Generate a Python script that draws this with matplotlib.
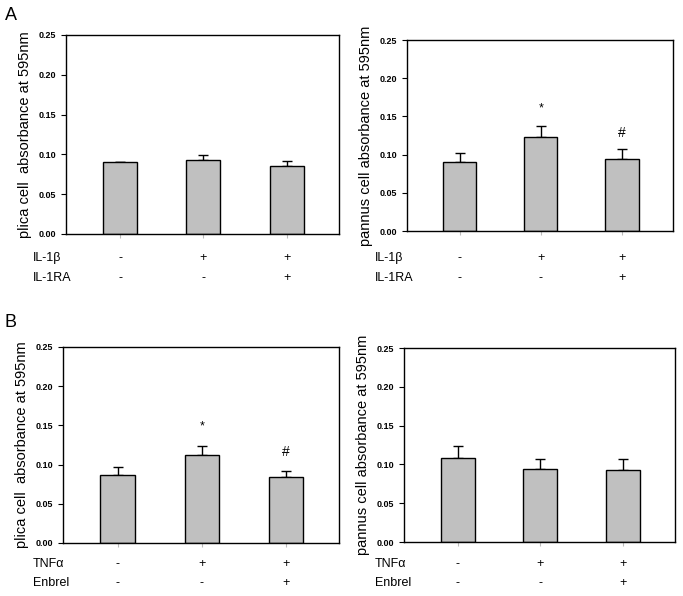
import matplotlib
matplotlib.use("Agg")
import matplotlib.pyplot as plt

plt.rcParams["font.family"] = ["Liberation Sans", "DejaVu Sans"]

W, H = 683, 596
fig = plt.figure(figsize=(W / 100, H / 100), dpi=100)

# ---- data ----
groups = [1, 2, 3]
a_plica = [0.090, 0.093, 0.086]
a_plica_err = [0.001, 0.006, 0.006]
a_pannus = [0.090, 0.123, 0.094]
a_pannus_err = [0.012, 0.015, 0.013]
b_plica = [0.087, 0.112, 0.084]
b_plica_err = [0.010, 0.012, 0.008]
b_pannus = [0.108, 0.094, 0.093]
b_pannus_err = [0.016, 0.013, 0.014]

a_rows = ["IL-1β", "IL-1RA"]
b_rows = ["TNFα", "Enbrel"]
signs_row1 = ["-", "+", "+"]
signs_row2 = ["-", "-", "+"]


def px_axes(x0, y0, x1, y1):
    return fig.add_axes([x0 / W, 1 - y1 / H, (x1 - x0) / W, (y1 - y0) / H])


def panel(ax, vals, errs, ylabel, rows, row_y, label_x, marks=None):
    ax.bar(groups, vals, width=0.41, color="#c0c0c0", edgecolor="black",
           linewidth=1.0, zorder=2)
    ax.errorbar(groups, vals, yerr=[[0] * 3, errs], fmt="none", ecolor="black",
                elinewidth=1.0, capsize=3.5, capthick=1.0, zorder=1)
    ax.set_xlim(0.35, 3.63)
    ax.set_ylim(0, 0.25)
    ax.set_yticks([0, 0.05, 0.10, 0.15, 0.20, 0.25])
    ax.set_yticklabels(["0.00", "0.05", "0.10", "0.15", "0.20", "0.25"],
                       fontsize=6.5, fontweight="bold")
    ax.set_xticks(groups)
    ax.set_xticklabels([])
    ax.tick_params(axis="x", length=3, color="#bbbbbb", width=0.8)
    ax.tick_params(axis="y", length=3.5, width=0.8)
    for s in ax.spines.values():
        s.set_linewidth(1.0)
    ax.set_ylabel(ylabel, fontsize=10.5, labelpad=5)
    if marks:
        for x, y, t, fs in marks:
            ax.text(x, y, t, ha="center", va="center", fontsize=fs)
    # condition rows under the axis
    for name, yy, signs in zip(rows, row_y, [signs_row1, signs_row2]):
        fig.text(label_x / W, 1 - yy / H, name, ha="left", va="center",
                 fontsize=9)
        for g, s in zip(groups, signs):
            xd = ax.transData.transform((g, 0))[0]
            fig.text(xd / fig.bbox.width, 1 - yy / H, s, ha="center",
                     va="center", fontsize=9)


ax1 = px_axes(66, 35, 339, 234)
ax2 = px_axes(407, 40, 673, 231)
ax3 = px_axes(63, 347, 339, 543)
ax4 = px_axes(404, 348, 675, 542)

panel(ax1, a_plica, a_plica_err, "plica cell  absorbance at 595nm",
      a_rows, [258, 278], 33)
panel(ax2, a_pannus, a_pannus_err, "pannus cell absorbance at 595nm",
      a_rows, [258, 278], 375,
      marks=[(2, 0.160, "*", 9), (3, 0.128, "#", 10)])
panel(ax3, b_plica, b_plica_err, "plica cell  absorbance at 595nm",
      b_rows, [564, 583], 33,
      marks=[(2, 0.149, "*", 9), (3, 0.116, "#", 10)])
panel(ax4, b_pannus, b_pannus_err, "pannus cell absorbance at 595nm",
      b_rows, [564, 583], 375)

fig.text(5 / W, 1 - 15 / H, "A", fontsize=13, ha="left", va="center")
fig.text(5 / W, 1 - 322 / H, "B", fontsize=13, ha="left", va="center")

fig.savefig("out.png", dpi=100, facecolor="white")
